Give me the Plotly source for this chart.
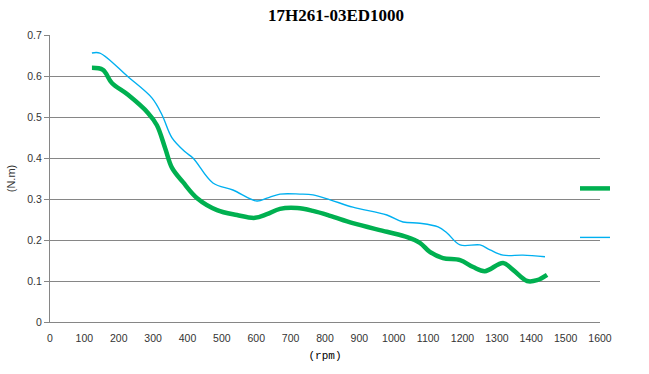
import plotly.graph_objects as go

# ---- data ----
rpm_blue = [122, 145, 227, 297, 326, 355, 393, 416, 474, 532, 602, 631, 669, 727, 765, 815,
            881, 980, 1027, 1076, 1129, 1155, 1193, 1251, 1280, 1318, 1376, 1440]
torque_blue = [0.656, 0.656, 0.598, 0.546, 0.505, 0.449, 0.415, 0.400, 0.339, 0.322, 0.295, 0.302,
               0.312, 0.312, 0.310, 0.298, 0.280, 0.261, 0.244, 0.241, 0.232, 0.217, 0.188, 0.188,
               0.176, 0.163, 0.163, 0.159]

rpm_green = [122, 154, 180, 227, 285, 311, 335, 355, 387, 428, 486, 544, 596, 631, 669, 719, 765,
             815, 881, 980, 1039, 1076, 1105, 1143, 1193, 1231, 1265, 1318, 1347, 1388, 1417, 1446]
torque_green = [0.620, 0.615, 0.583, 0.554, 0.510, 0.480, 0.424, 0.376, 0.341, 0.302, 0.273, 0.261,
                0.254, 0.263, 0.276, 0.278, 0.271, 0.259, 0.241, 0.220, 0.207, 0.193, 0.171, 0.156,
                0.151, 0.134, 0.124, 0.144, 0.127, 0.100, 0.102, 0.115]

title_text = "17H261-03ED1000"
x_title = "(rpm)"
y_title = "(N.m)"

GREEN = "#00B050"
BLUE = "#00B0F0"
GRID = "#868686"

fig = go.Figure()
fig.add_trace(go.Scatter(x=rpm_green, y=torque_green, mode="lines", name=" ",
                         line=dict(color=GREEN, width=4.5, shape="spline"),
                         legendgroup="g1"))
fig.add_trace(go.Scatter(x=rpm_blue, y=torque_blue, mode="lines", name=" ",
                         line=dict(color=BLUE, width=1.4, shape="spline"),
                         legendgroup="g2"))

# white legend area masking the gridlines (as in the original chart)
fig.add_shape(type="rect", xref="paper", yref="y", x0=0.9636, x1=1.0, y0=0.15, y1=0.43,
              fillcolor="white", line=dict(width=0), layer="between")

fig.update_layout(
    width=649, height=374,
    margin=dict(l=50, r=49, t=35, b=52),
    paper_bgcolor="white", plot_bgcolor="white",
    title=dict(text="<b>" + title_text + "</b>", x=336 / 649, xanchor="center",
               y=1 - 15.5 / 374, yanchor="middle", yref="container",
               font=dict(family="Liberation Serif", size=17, color="black")),
    showlegend=True,
    legend=dict(x=0.9545, xanchor="left", y=0.516, yanchor="top",
                bgcolor="rgba(0,0,0,0)", borderwidth=0, traceorder="grouped",
                tracegroupgap=30, font=dict(size=12), itemwidth=30),
    xaxis=dict(range=[0, 1600], dtick=100, tick0=0, showgrid=False, automargin=False,
               showline=True, linecolor=GRID, linewidth=1, zeroline=False,
               ticks="outside", ticklen=6, tickcolor="rgba(0,0,0,0)",
               tickfont=dict(family="Liberation Sans", size=10.5, color="#333333"),
               title=dict(text=x_title, standoff=8,
                          font=dict(family="Liberation Mono", size=11, color="black"))),
    yaxis=dict(range=[0, 0.7], dtick=0.1, tick0=0, showgrid=True, gridcolor=GRID,
               gridwidth=1, showline=True, linecolor=GRID, linewidth=1, zeroline=False,
               automargin=False,
               ticks="outside", ticklen=5, tickcolor=GRID,
               tickfont=dict(family="Liberation Sans", size=10.5, color="#333333"),
               title=dict(text=y_title, standoff=9,
                          font=dict(family="Liberation Sans", size=11, color="#333333"))),
)

# remove the browser's default 8px page margin so the figure fills the window
fig.write_html("out.html", config={"displayModeBar": False},
               post_script="document.body.style.margin='0';")
